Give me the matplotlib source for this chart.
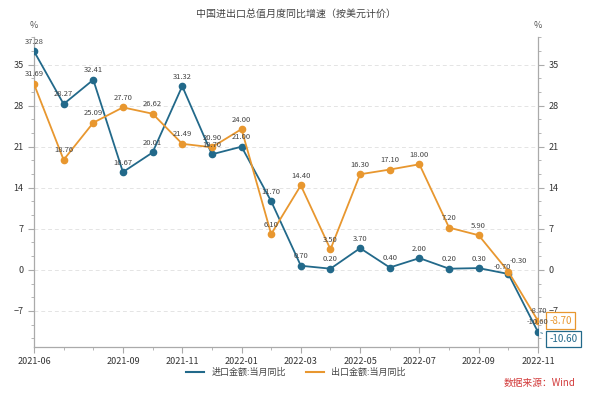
import matplotlib
matplotlib.use("Agg")
import matplotlib.pyplot as plt
from matplotlib.lines import Line2D
from matplotlib.ticker import MultipleLocator, FixedLocator

plt.rcParams['font.family'] = ['Noto Sans CJK SC', 'DejaVu Sans']

# monthly data, 2021-06 .. 2022-11
months = ["2021-06", "2021-07", "2021-08", "2021-09", "2021-10", "2021-11",
          "2021-12", "2022-01", "2022-02", "2022-03", "2022-04", "2022-05",
          "2022-06", "2022-07", "2022-08", "2022-09", "2022-10", "2022-11"]
imports = [37.28, 28.27, 32.41, 16.67, 20.01, 31.32, 19.70, 21.00, 11.70,
           0.70, 0.20, 3.70, 0.40, 2.00, 0.20, 0.30, -0.70, -10.60]
exports = [31.69, 18.76, 25.09, 27.70, 26.62, 21.49, 20.90, 24.00, 6.10,
           14.40, 3.50, 16.30, 17.10, 18.00, 7.20, 5.90, -0.30, -8.70]
shown_ticks = ["2021-06", "2021-09", "2021-11", "2022-01", "2022-03",
               "2022-05", "2022-07", "2022-09", "2022-11"]

c_imp = "#22698a"
c_exp = "#e8972f"

fig = plt.figure(figsize=(5.92, 3.95), dpi=100)
ax = fig.add_axes([0.0574, 0.1223, 0.8514, 0.784])

x = list(range(len(months)))
ax.plot(x, imports, color=c_imp, lw=1.3, marker="o", ms=4.5, zorder=3)
ax.plot(x, exports, color=c_exp, lw=1.3, marker="o", ms=4.5, zorder=3)

last = len(months) - 1
for xi, v in zip(x, imports):
    off, ha = (0, 4), "center"
    if xi == last - 1:
        off, ha = (2, 2), "right"
    ax.annotate(f"{v:.2f}", (xi, v), xytext=off, textcoords="offset points",
                ha=ha, va="bottom", fontsize=5.5, color="#444444", zorder=4)
for xi, v in zip(x, exports):
    off, ha = (0, 4), "center"
    if xi == last - 1:
        off, ha = (1, 5), "left"
    ax.annotate(f"{v:.2f}", (xi, v), xytext=off, textcoords="offset points",
                ha=ha, va="bottom", fontsize=5.5, color="#444444", zorder=4)

# end-value boxes
ax.annotate(f"{exports[-1]:.2f}", (last, exports[-1]), xytext=(8, 0), textcoords="offset points",
            ha="left", va="center", fontsize=7, color=c_exp, annotation_clip=False,
            bbox=dict(boxstyle="square,pad=0.35", fc="white", ec=c_exp, lw=0.9),
            arrowprops=dict(arrowstyle="-", color=c_exp, lw=0.6))
ax.annotate(f"{imports[-1]:.2f}", (last, imports[-1]), xytext=(8, -5), textcoords="offset points",
            ha="left", va="center", fontsize=7, color=c_imp, annotation_clip=False,
            bbox=dict(boxstyle="square,pad=0.35", fc="white", ec=c_imp, lw=0.9),
            arrowprops=dict(arrowstyle="-", color=c_imp, lw=0.6))

ax.set_xlim(0, last)
ax.set_ylim(-13.1, 39.7)
ax.yaxis.set_major_locator(MultipleLocator(7))
ax.yaxis.set_minor_locator(MultipleLocator(7 / 3))
major_x = [months.index(m) for m in shown_ticks]
ax.xaxis.set_major_locator(FixedLocator(major_x))
ax.set_xticklabels(shown_ticks)
ax.xaxis.set_minor_locator(FixedLocator(x))

ax.grid(axis="y", color="#e4e4e4", lw=0.7, ls=(0, (4, 3)))
for s in ["left", "right", "bottom"]:
    ax.spines[s].set_color("#aaaaaa")
    ax.spines[s].set_linewidth(0.9)
ax.spines["top"].set_visible(False)
ax.tick_params(axis="y", which="both", left=True, right=True, labelright=True,
               colors="#aaaaaa", labelcolor="#333333", labelsize=6.5, direction="out")
ax.tick_params(axis="y", which="major", length=4)
ax.tick_params(axis="y", which="minor", length=2.5)
ax.tick_params(axis="x", which="both", colors="#aaaaaa", labelcolor="#333333",
               labelsize=6.5, direction="out")
ax.tick_params(axis="x", which="major", length=4)
ax.tick_params(axis="x", which="minor", length=2.5)

fig.text(0.057, 0.93, "%", ha="center", fontsize=6.5, color="#555555")
fig.text(0.909, 0.93, "%", ha="center", fontsize=6.5, color="#555555")
fig.text(0.5, 0.965, "中国进出口总值月度同比增速（按美元计价）", ha="center", va="center",
         fontsize=7.2, color="#444444")

handles = [Line2D([], [], color=c_imp, lw=1.5), Line2D([], [], color=c_exp, lw=1.5)]
fig.legend(handles, ["进口金额:当月同比", "出口金额:当月同比"], loc="center",
           bbox_to_anchor=(0.5, 0.058), ncol=2, frameon=False, fontsize=6.5,
           handlelength=2, columnspacing=2.2, labelcolor="#444444")
fig.text(0.972, 0.03, "数据来源：Wind", ha="right", va="center", fontsize=7, color="#d23a3a")

fig.savefig("out.png", dpi=100)
